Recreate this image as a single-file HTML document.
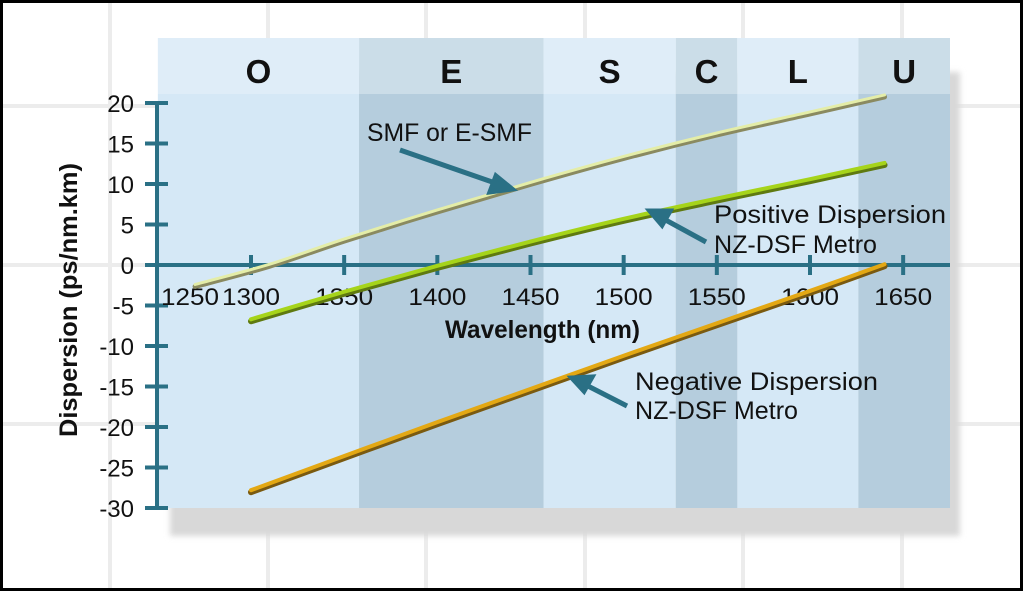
<!DOCTYPE html>
<html><head><meta charset="utf-8"><style>
html,body{margin:0;padding:0;background:#fff}
svg{display:block}
text{font-family:"Liberation Sans",sans-serif}
</style></head><body>
<svg id="chart" width="1023" height="591" viewBox="0 0 1023 591" xmlns="http://www.w3.org/2000/svg">
<defs><filter id="blur" x="-5%" y="-5%" width="110%" height="110%"><feGaussianBlur stdDeviation="3"/></filter></defs>
<rect x="1.5" y="1.5" width="1020" height="588" fill="#fff" stroke="#000" stroke-width="3"/>
<g id="bggrid" stroke="#ececec" stroke-width="4"></g>
<rect x="170" y="72" width="790" height="464" fill="#d8d8d8" filter="url(#blur)"/>
<g id="bands"></g>
<g id="axes"></g>
<g id="series"></g>
<g fill="#111" font-size="25">
<text x="367" y="141" textLength="165" lengthAdjust="spacingAndGlyphs">SMF or E-SMF</text>
<text x="714" y="223" textLength="232" lengthAdjust="spacingAndGlyphs">Positive Dispersion</text>
<text x="714" y="253" textLength="163" lengthAdjust="spacingAndGlyphs">NZ-DSF Metro</text>
<text x="635" y="390" textLength="243" lengthAdjust="spacingAndGlyphs">Negative Dispersion</text>
<text x="635" y="419" textLength="163" lengthAdjust="spacingAndGlyphs">NZ-DSF Metro</text>
<g stroke="#2a7085" stroke-width="5" fill="#2a7085">
<line x1="400" y1="150" x2="498" y2="184"/>
<polygon points="512,189 490,192 496,176"/>
<line x1="706" y1="242" x2="662" y2="218"/>
<polygon points="650,211 670,211 662,225"/>
<line x1="627" y1="406" x2="584" y2="384"/>
<polygon points="572,378 592,377 584,391"/>
</g>
</g>
<text x="445" y="338" font-size="25" font-weight="bold" fill="#111" textLength="195" lengthAdjust="spacingAndGlyphs">Wavelength (nm)</text>
<text transform="translate(77,437) rotate(-90)" font-size="25" font-weight="bold" fill="#111" textLength="274" lengthAdjust="spacingAndGlyphs">Dispersion (ps/nm.km)</text>
</svg>
<script>
const bandNames=["O","E","S","C","L","U"];
const bandStarts=[1250,1358,1457,1528,1561,1626];
const bandEnds=[1358,1457,1528,1561,1626,1677];
const xTicks=[1300,1350,1400,1450,1500,1550,1600,1650];
const xTickLabels=["1250","1300","1350","1400","1450","1500","1550","1600","1650"];
const xLabelValues=[1250,1300,1350,1400,1450,1500,1550,1600,1650];
const yTicks=[20,15,10,5,0,-5,-10,-15,-20,-25,-30];
const smfX=[1270,1310,1350,1400,1450,1500,1550,1600,1640];
const smfY=[-2.5,0,3.1,6.7,10.1,13.3,16.2,18.8,20.9];
const posX=[1300,1350,1400,1450,1500,1550,1600,1640];
const posY=[-6.8,-3.4,-0.2,2.8,5.6,8.1,10.5,12.5];
const negX=[1300,1400,1500,1600,1640];
const negY=[-27.9,-19.5,-11.3,-3.3,0];

const NS="http://www.w3.org/2000/svg";
const xs=w=>251+(w-1300)*1.8633;
const ys=v=>265-v*8.1;
function mk(tag,attrs,parent){const e=document.createElementNS(NS,tag);for(const k in attrs)e.setAttribute(k,attrs[k]);parent.appendChild(e);return e;}

const grid=document.getElementById('bggrid');
[110,268,426,585,743,902].forEach(x=>{const l=mk('line',{x1:x,y1:3,x2:x,y2:588},grid);

});
[106,265,424].forEach(y=>{const l=mk('line',{x1:3,y1:y,x2:1020,y2:y},grid);

});

const bands=document.getElementById('bands');
bandNames.forEach((n,i)=>{
 const dark=i%2===1;
 const x0=Math.max(157,xs(bandStarts[i])),x1=Math.min(950,xs(bandEnds[i]));
 const r=mk('rect',{x:x0,y:94,width:x1-x0,height:414,fill:dark?'#b5cddd':'#d5e8f6'},bands);
 
 
 const h=mk('rect',{x:x0,y:38,width:x1-x0,height:56,fill:dark?'#cbdde8':'#dfedf8'},bands);
 
 
 const t=mk('text',{x:(x0+x1)/2,y:83,'text-anchor':'middle','font-size':33,'font-weight':'bold',fill:'#111'},bands);
 
 
 t.textContent=n;
});

const axes=document.getElementById('axes');
const C='#2a7085';
let a=mk('line',{x1:157,y1:ys(20),x2:157,y2:ys(-30),stroke:C,'stroke-width':4},axes);


a=mk('line',{x1:145,y1:ys(0),x2:950,y2:ys(0),stroke:C,'stroke-width':4},axes);


yTicks.forEach(v=>{
 const t=mk('line',{x1:145,y1:ys(v),x2:168,y2:ys(v),stroke:C,'stroke-width':4},axes);
 
 
 const l=mk('text',{x:134,y:ys(v)+9,'text-anchor':'end','font-size':24,fill:'#111'},axes);
 
 
 l.textContent=String(v);
});
xTicks.forEach(v=>{
 const t=mk('line',{x1:xs(v),y1:ys(0)-10,x2:xs(v),y2:ys(0)+10,stroke:C,'stroke-width':4},axes);
 
 
});
xLabelValues.forEach((v,i)=>{
 const cx=v===1250?190:xs(v);
 const l=mk('text',{x:cx-29,y:305,'font-size':24,fill:'#111',textLength:58,lengthAdjust:'spacingAndGlyphs'},axes);
 
 
 l.textContent=xTickLabels[i];
});

const ser=document.getElementById('series');
function pathD(X,Y,dy){
 const P=X.map((x,i)=>[xs(x),ys(Y[i])+dy]);
 let d='M'+P[0][0]+','+P[0][1];
 for(let i=0;i<P.length-1;i++){
  const p0=P[Math.max(0,i-1)],p1=P[i],p2=P[i+1],p3=P[Math.min(P.length-1,i+2)];
  const c1=[p1[0]+(p2[0]-p0[0])/6,p1[1]+(p2[1]-p0[1])/6];
  const c2=[p2[0]-(p3[0]-p1[0])/6,p2[1]-(p3[1]-p1[1])/6];
  d+=' C'+c1[0]+','+c1[1]+' '+c2[0]+','+c2[1]+' '+p2[0]+','+p2[1];
 }
 return d;
}
function draw(X,Y,name,dark,light,w){
 const s=mk('path',{d:pathD(X,Y,1.2),fill:'none',stroke:dark,'stroke-width':w,'stroke-linecap':'round'},ser);
 
 
 const p=mk('path',{d:pathD(X,Y,-0.8),fill:'none',stroke:light,'stroke-width':w-2,'stroke-linecap':'round'},ser);
 
 
}
draw(smfX,smfY,'smf','#8a8a60','#e4eda8',5);
draw(posX,posY,'positive-nzdsf','#5f7a10','#a6d41a',6);
draw(negX,negY,'negative-nzdsf','#7a5a10','#e3a814',6);
</script>
</body></html>
